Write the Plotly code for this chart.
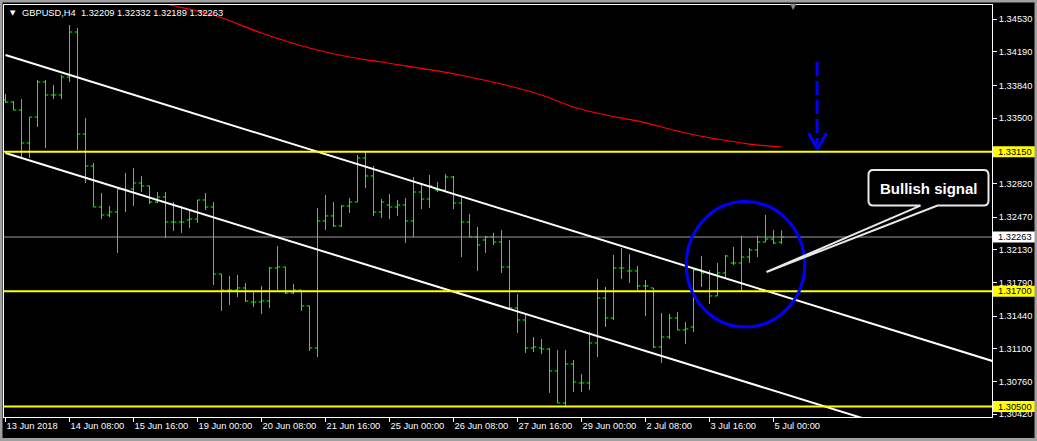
import plotly.graph_objects as go

# ---------------- data (GBPUSD H4) ----------------
opens = [1.33688, 1.33667, 1.33584, 1.33241, 1.33511, 1.33875, 1.33740, 1.33740, 1.33927, 1.34395,
         1.33334, 1.33001, 1.32575, 1.32492, 1.32523, 1.32762, 1.32762, 1.32825, 1.32794, 1.32627,
         1.32679, 1.32419, 1.32419, 1.32440, 1.32450, 1.32648, 1.32575, 1.31878, 1.31712, 1.31712,
         1.31733, 1.31587, 1.31587, 1.31598, 1.31941, 1.31951, 1.31681, 1.31712, 1.31546, 1.31109,
         1.32430, 1.32482, 1.32378, 1.32586, 1.32627, 1.33085, 1.32898, 1.32523, 1.32596, 1.32575,
         1.32596, 1.32430, 1.32731, 1.32658, 1.32752, 1.32752, 1.32887, 1.32617, 1.32419, 1.32263,
         1.32232, 1.32263, 1.32211, 1.31951, 1.31525, 1.31400, 1.31109, 1.31109, 1.31098, 1.30870,
         1.30537, 1.30942, 1.30745, 1.30745, 1.31161, 1.31629, 1.31421, 1.31941, 1.31910, 1.31910,
         1.31754, 1.31733, 1.31119, 1.31223, 1.31421, 1.31296, 1.31327, 1.31920, 1.31889, 1.31650,
         1.31889, 1.31993, 1.31993, 1.32055, 1.32128, 1.32211, 1.32242, 1.32209]
highs = [1.33750, 1.33677, 1.33698, 1.33511, 1.33896, 1.33896, 1.33844, 1.33948, 1.34468, 1.34437,
         1.33501, 1.33033, 1.32721, 1.32586, 1.32762, 1.32929, 1.32981, 1.32898, 1.32794, 1.32731,
         1.32731, 1.32627, 1.32586, 1.32534, 1.32648, 1.32721, 1.32627, 1.31878, 1.31858, 1.31868,
         1.31785, 1.31691, 1.31754, 1.31951, 1.32170, 1.31951, 1.31774, 1.31712, 1.31546, 1.32565,
         1.32700, 1.32627, 1.32596, 1.32669, 1.33116, 1.33147, 1.33001, 1.32658, 1.32710, 1.32648,
         1.32669, 1.32887, 1.32825, 1.32908, 1.32835, 1.32918, 1.32898, 1.32690, 1.32502, 1.32367,
         1.32274, 1.32305, 1.32336, 1.32232, 1.31670, 1.31473, 1.31223, 1.31202, 1.31109, 1.31088,
         1.31088, 1.30984, 1.30838, 1.31275, 1.31826, 1.31743, 1.32076, 1.32149, 1.32086, 1.31962,
         1.31816, 1.31733, 1.31473, 1.31462, 1.31483, 1.31379, 1.31941, 1.32066, 1.31920, 1.31993,
         1.32076, 1.32159, 1.32274, 1.32149, 1.32274, 1.32492, 1.32336, 1.32332]
lows = [1.33656, 1.33584, 1.33095, 1.33085, 1.33407, 1.33189, 1.33698, 1.33698, 1.33875, 1.33168,
        1.32825, 1.32575, 1.32450, 1.32471, 1.32097, 1.32523, 1.32586, 1.32731, 1.32606, 1.32617,
        1.32253, 1.32326, 1.32305, 1.32357, 1.32409, 1.32544, 1.31764, 1.31494, 1.31556, 1.31639,
        1.31587, 1.31535, 1.31462, 1.31525, 1.31712, 1.31670, 1.31670, 1.31494, 1.31078, 1.31015,
        1.32336, 1.32367, 1.32367, 1.32513, 1.32627, 1.32773, 1.32482, 1.32461, 1.32450, 1.32482,
        1.32201, 1.32263, 1.32554, 1.32565, 1.32731, 1.32731, 1.32554, 1.32055, 1.32263, 1.31910,
        1.32097, 1.32180, 1.31889, 1.31504, 1.31265, 1.31057, 1.31067, 1.31046, 1.30641, 1.30537,
        1.30495, 1.30651, 1.30651, 1.30672, 1.31015, 1.31327, 1.31400, 1.31826, 1.31785, 1.31712,
        1.31442, 1.31109, 1.30953, 1.31202, 1.31296, 1.31150, 1.31275, 1.31743, 1.31566, 1.31650,
        1.31837, 1.31972, 1.31691, 1.31993, 1.32055, 1.32211, 1.32190, 1.32189]
closes = [1.33667, 1.33584, 1.33241, 1.33511, 1.33875, 1.33740, 1.33740, 1.33927, 1.34395, 1.33334,
          1.33001, 1.32575, 1.32492, 1.32523, 1.32762, 1.32752, 1.32825, 1.32794, 1.32627, 1.32679,
          1.32419, 1.32419, 1.32419, 1.32450, 1.32648, 1.32575, 1.31878, 1.31712, 1.31712, 1.31733,
          1.31598, 1.31587, 1.31598, 1.31941, 1.31951, 1.31681, 1.31712, 1.31546, 1.31109, 1.32430,
          1.32482, 1.32378, 1.32586, 1.32627, 1.33085, 1.32898, 1.32523, 1.32627, 1.32575, 1.32596,
          1.32430, 1.32731, 1.32658, 1.32794, 1.32752, 1.32887, 1.32617, 1.32419, 1.32263, 1.32180,
          1.32263, 1.32211, 1.31951, 1.31525, 1.31400, 1.31109, 1.31119, 1.31098, 1.30870, 1.30537,
          1.30942, 1.30755, 1.30745, 1.31161, 1.31629, 1.31421, 1.31941, 1.31941, 1.31910, 1.31754,
          1.31754, 1.31119, 1.31223, 1.31421, 1.31296, 1.31306, 1.31920, 1.31889, 1.31650, 1.31889,
          1.32066, 1.31993, 1.32055, 1.32128, 1.32211, 1.32242, 1.32201, 1.32263]

x_tick_index = [0, 8, 16, 24, 32, 40, 48, 56, 64, 72, 80, 88, 96]
x_tick_labels = ["13 Jun 2018", "14 Jun 08:00", "15 Jun 16:00", "19 Jun 00:00", "20 Jun 08:00",
                 "21 Jun 16:00", "25 Jun 00:00", "26 Jun 08:00", "27 Jun 16:00", "29 Jun 00:00",
                 "2 Jul 08:00", "3 Jul 16:00", "5 Jul 00:00"]
y_tick_values = [1.34530, 1.34190, 1.33840, 1.33500, 1.33150, 1.32820, 1.32470,
                 1.32130, 1.31790, 1.31440, 1.31100, 1.30760, 1.30420]

# moving average (red), sampled along the curve
ma_index = [20, 21, 26, 32, 38, 43, 47, 50, 54, 58, 63, 67, 71, 75, 79, 85, 89, 93, 97]
ma_values = [1.34688, 1.34668, 1.34572, 1.34385, 1.34229, 1.34135, 1.34083, 1.34042, 1.33990,
             1.33927, 1.33834, 1.33740, 1.33615, 1.33532, 1.33470, 1.33345, 1.33282, 1.33230, 1.33199]

# horizontal levels and current bid
level_prices = [1.33150, 1.31700, 1.30500]
bid_price = 1.32263

# channel trend lines (bar index, price anchors)
upper_line_x = [0, 123.375]
upper_line_y = [1.34156, 1.30973]
lower_line_x = [0, 123.375]
lower_line_y = [1.33136, 1.29961]

title_text = "GBPUSD,H4\u00a0\u00a01.32209 1.32332 1.32189 1.32263"

# ---------------- layout geometry ----------------
W, H = 1037, 441
PL, PR, PT, PB = 4, 992, 5, 417
X_MIN, X_MAX = -0.1875, 123.3125
Y_MIN, Y_MAX = 1.30391, 1.34676
FONT = "Liberation Sans, Arial, sans-serif"
FS = 9.3


def paper_x(px):
    return (px - PL) / (PR - PL)


def paper_y(py):
    return (PB - py) / (PB - PT)


def price_to_paper(p):
    return (p - Y_MIN) / (Y_MAX - Y_MIN)


idx = list(range(len(opens)))

fig = go.Figure()

fig.add_trace(go.Ohlc(
    x=idx, open=opens, high=highs, low=lows, close=closes,
    increasing=dict(line=dict(color="#00FF00", width=1)),
    decreasing=dict(line=dict(color="#00FF00", width=1)),
    tickwidth=0.35, hoverinfo="skip", showlegend=False))

fig.add_trace(go.Scatter(x=ma_index, y=ma_values, mode="lines", line=dict(color="#FF0000", width=1.2, shape="spline"),
                         hoverinfo="skip", showlegend=False))

fig.add_trace(go.Scatter(x=[X_MIN, X_MAX], y=[bid_price, bid_price], mode="lines",
                         line=dict(color="#9A9A9A", width=1), hoverinfo="skip", showlegend=False))

for lx, ly in ((upper_line_x, upper_line_y), (lower_line_x, lower_line_y)):
    fig.add_trace(go.Scatter(x=lx, y=ly, mode="lines", line=dict(color="#FFFFFF", width=2),
                             hoverinfo="skip", showlegend=False))

for lp in level_prices:
    fig.add_trace(go.Scatter(x=[X_MIN, X_MAX], y=[lp, lp], mode="lines",
                             line=dict(color="#FFFF00", width=2), hoverinfo="skip", showlegend=False))

# dashed blue arrow
arrow_x = 101.44
fig.add_trace(go.Scatter(x=[arrow_x, arrow_x], y=[1.34083, 1.33240], mode="lines",
                         line=dict(color="#0000FF", width=3, dash="14px,5px"), hoverinfo="skip", showlegend=False))
fig.add_trace(go.Scatter(x=[100.375, 101.5, 102.625], y=[1.33345, 1.33178, 1.33345], mode="lines",
                         line=dict(color="#0000FF", width=3), hoverinfo="skip", showlegend=False))

shapes = []
# blue circle
shapes.append(dict(type="circle", xref="x", yref="y", x0=85.1, x1=99.9, y0=1.31327, y1=1.32632,
                   line=dict(color="#0000FF", width=3), layer="above"))

# callout box with pointer
bx0, bx1, by0, by1 = 107.875, 122.875, 1.32590, 1.32960
rx, ry = 0.6, 0.0005
tip_x, tip_y = 95.125, 1.31899
base_l, base_r = 114.375, 116.5
path = (f"M {base_l},{by0} L {tip_x},{tip_y} L {base_r},{by0} L {bx1-rx},{by0} "
        f"Q {bx1},{by0} {bx1},{by0+ry} L {bx1},{by1-ry} Q {bx1},{by1} {bx1-rx},{by1} "
        f"L {bx0+rx},{by1} Q {bx0},{by1} {bx0},{by1-ry} L {bx0},{by0+ry} "
        f"Q {bx0},{by0} {bx0+rx},{by0} Z")
shapes.append(dict(type="path", xref="x", yref="y", path=path, fillcolor="#000000",
                   line=dict(color="#E8E8E8", width=2), layer="above"))

# price label boxes on the right axis
label_boxes = [(p, "#FFFF00") for p in level_prices] + [(bid_price, "#FFFFFF")]
for p, col in label_boxes:
    yc = price_to_paper(p)
    shapes.append(dict(type="rect", xref="paper", yref="paper", x0=paper_x(993), x1=paper_x(1035),
                       y0=yc - 5.5 / (PB - PT), y1=yc + 5.5 / (PB - PT),
                       fillcolor=col, line=dict(width=0), layer="above"))

# outer gray frame
shapes.append(dict(type="rect", xref="paper", yref="paper", x0=paper_x(1), x1=paper_x(1036),
                   y0=paper_y(439.5), y1=paper_y(1), line=dict(color="#A0A0A0", width=3), layer="above"))

annotations = []
for p, col in label_boxes:
    annotations.append(dict(xref="paper", yref="paper", x=paper_x(996), y=price_to_paper(p),
                            xanchor="left", yanchor="middle", text=f"{p:.5f}", showarrow=False,
                            font=dict(family=FONT, size=FS, color="#000000")))

annotations.append(dict(xref="x", yref="y", x=115.375, y=1.32772, text="<b>Bullish signal</b>",
                        showarrow=False, xanchor="center", yanchor="middle",
                        font=dict(family="Liberation Sans, Arial, sans-serif", size=15, color="#FFFFFF")))

annotations.append(dict(xref="paper", yref="paper", x=paper_x(20), y=paper_y(13), xanchor="left",
                        yanchor="middle", text=title_text, showarrow=False,
                        font=dict(family=FONT, size=FS, color="#FFFFFF")))
annotations.append(dict(xref="paper", yref="paper", x=paper_x(12.5), y=paper_y(12.5), xanchor="center",
                        yanchor="middle", text="\u25BC", showarrow=False,
                        font=dict(family="DejaVu Sans", size=7, color="#FFFFFF")))
annotations.append(dict(xref="paper", yref="paper", x=paper_x(793), y=paper_y(7), xanchor="center",
                        yanchor="middle", text="\u25BC", showarrow=False,
                        font=dict(family="DejaVu Sans", size=8, color="#8C8C8C")))

fig.update_layout(
    width=W, height=H, autosize=False,
    margin=dict(l=PL, r=W - PR, t=PT, b=H - PB, pad=0),
    paper_bgcolor="#000000", plot_bgcolor="#000000",
    showlegend=False, shapes=shapes, annotations=annotations,
    xaxis=dict(range=[X_MIN, X_MAX], rangeslider=dict(visible=False), showgrid=False, zeroline=False,
               tickmode="array", tickvals=x_tick_index, ticktext=x_tick_labels, tickangle=0,
               automargin=False,
               ticklabelposition="outside right", ticks="outside", ticklen=4, tickcolor="#FFFFFF",
               showline=True, linecolor="#FFFFFF", linewidth=1, mirror=True,
               tickfont=dict(family=FONT, size=FS, color="#FFFFFF")),
    yaxis=dict(range=[Y_MIN, Y_MAX], side="right", showgrid=False, zeroline=False, automargin=False,
               tickmode="array", tickvals=y_tick_values, ticktext=[f"{v:.5f}" for v in y_tick_values],
               ticks="outside", ticklen=4, tickcolor="#FFFFFF",
               showline=True, linecolor="#FFFFFF", linewidth=1, mirror=True,
               tickfont=dict(family=FONT, size=FS, color="#FFFFFF")),
)

fig.write_html("out.html", config={"displayModeBar": False},
               post_script="document.body.style.margin='0';document.body.style.overflow='hidden';"
                           "document.body.style.background='#000';")
